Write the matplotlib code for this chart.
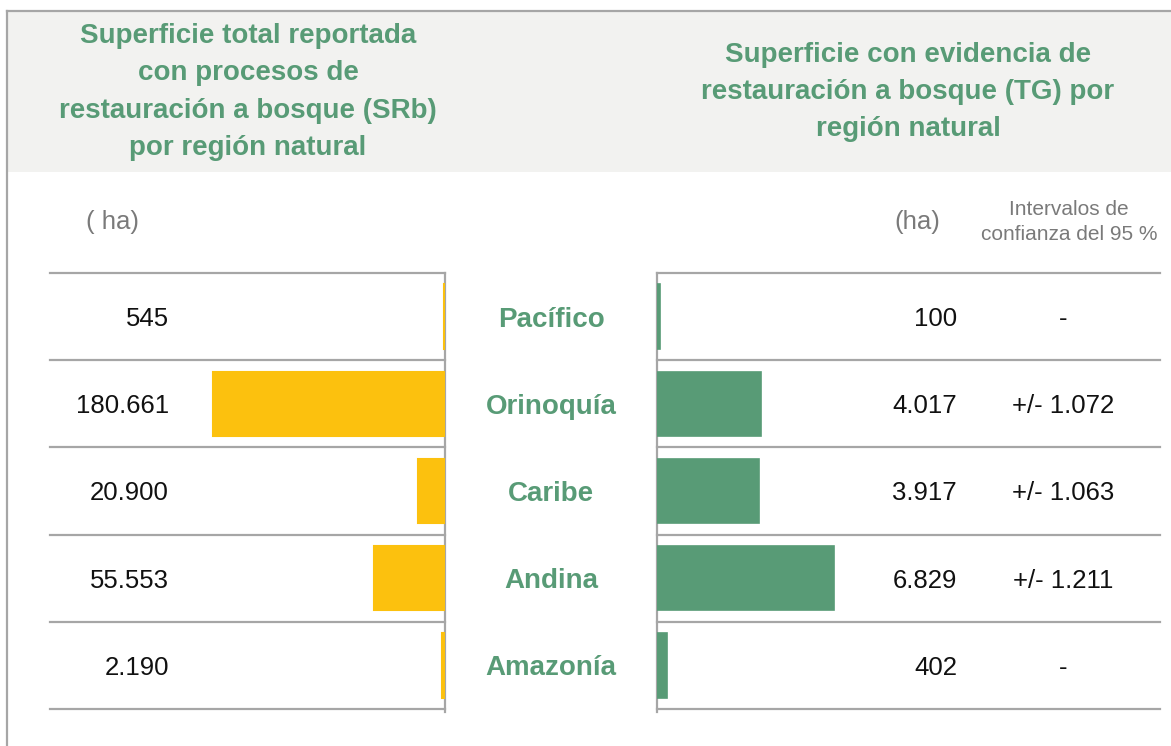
import matplotlib.pyplot as plt
from matplotlib.patches import Rectangle

plt.rcParams['font.family'] = ['Liberation Sans', 'DejaVu Sans']

# data
regiones = ["Pacífico", "Orinoquía", "Caribe", "Andina", "Amazonía"]
srb_ha = [545, 180661, 20900, 55553, 2190]
tg_ha = [100, 4017, 3917, 6829, 402]
srb_lbl = ["545", "180.661", "20.900", "55.553", "2.190"]
tg_lbl = ["100", "4.017", "3.917", "6.829", "402"]
ic_lbl = ["-", "+/- 1.072", "+/- 1.063", "+/- 1.211", "-"]

title_left = "Superficie total reportada\ncon procesos de\nrestauración a bosque (SRb)\npor región natural"
title_right = "Superficie con evidencia de\nrestauración a bosque (TG) por\nregión natural"

c_yellow = "#fcc10e"
c_green = "#589b76"
c_grid = "#a6a6a6"
c_gray_txt = "#7a7a7a"
c_head = "#f2f2f0"

W, H = 1171, 746
fig = plt.figure(figsize=(W / 100, H / 100), dpi=100)

# background axes in pixel units
bg = fig.add_axes([0, 0, 1, 1])
bg.set_xlim(0, W)
bg.set_ylim(H, 0)
bg.axis("off")

bg.add_patch(Rectangle((8, 12), W - 8, 160, color=c_head, lw=0))
bg.plot([7, W], [11, 11], color=c_grid, lw=1.6)
bg.plot([7, 7], [11, H], color=c_grid, lw=1.6)

bg.text(248, 92, title_left, ha="center", va="center", fontsize=20,
        fontweight="bold", color=c_green, linespacing=1.57)
bg.text(908, 92, title_right, ha="center", va="center", fontsize=20,
        fontweight="bold", color=c_green, linespacing=1.57)

bg.text(113, 222, "( ha)", ha="center", va="center", fontsize=18.5, color=c_gray_txt)
bg.text(917, 222, "(ha)", ha="center", va="center", fontsize=18.5, color=c_gray_txt)
bg.text(1069, 222, "Intervalos de\nconfianza del 95 %", ha="center", va="center",
        fontsize=15, color=c_gray_txt, linespacing=1.45)

# table rows
top, bot = 273, 709
n = len(regiones)
row_h = (bot - top) / n
for i in range(n):
    yc = top + row_h * (i + 0.5)
    bg.text(169, yc, srb_lbl[i], ha="right", va="center_baseline", fontsize=18.5, color="#111111")
    bg.text(551, yc, regiones[i], ha="center", va="center_baseline", fontsize=20,
            fontweight="bold", color=c_green)
    bg.text(957, yc, tg_lbl[i], ha="right", va="center_baseline", fontsize=18.5, color="#111111")
    bg.text(1063, yc, ic_lbl[i], ha="center", va="center_baseline", fontsize=18.5, color="#111111")

# left bar panel
lx0, lx1 = 50, 445
axl = fig.add_axes([lx0 / W, 1 - bot / H, (lx1 - lx0) / W, (bot - top) / H])
axl.barh(range(n), srb_ha, height=0.74, color=c_yellow, edgecolor=c_yellow,
         lw=1.5, zorder=3)
axl.set_xlim(max(srb_ha) * (lx1 - lx0) / 232, 0)
axl.set_ylim(n - 0.5, -0.5)
axl.axis("off")

# right bar panel
rx0, rx1 = 657, 1160
axr = fig.add_axes([rx0 / W, 1 - bot / H, (rx1 - rx0) / W, (bot - top) / H])
axr.barh(range(n), tg_ha, height=0.74, color=c_green, edgecolor=c_green,
         lw=1.2, zorder=3)
axr.set_xlim(0, max(tg_ha) * (rx1 - rx0) / 177)
axr.set_ylim(n - 0.5, -0.5)
axr.axis("off")

for ax in (axl, axr):
    for k in range(n + 1):
        ax.axhline(k - 0.5, color=c_grid, lw=1.6, clip_on=False, zorder=0)
    ax.plot([0, 0], [-0.5, n - 0.46], color=c_grid, lw=1.6,
            clip_on=False, zorder=1)

fig.savefig("out.png", dpi=100)
